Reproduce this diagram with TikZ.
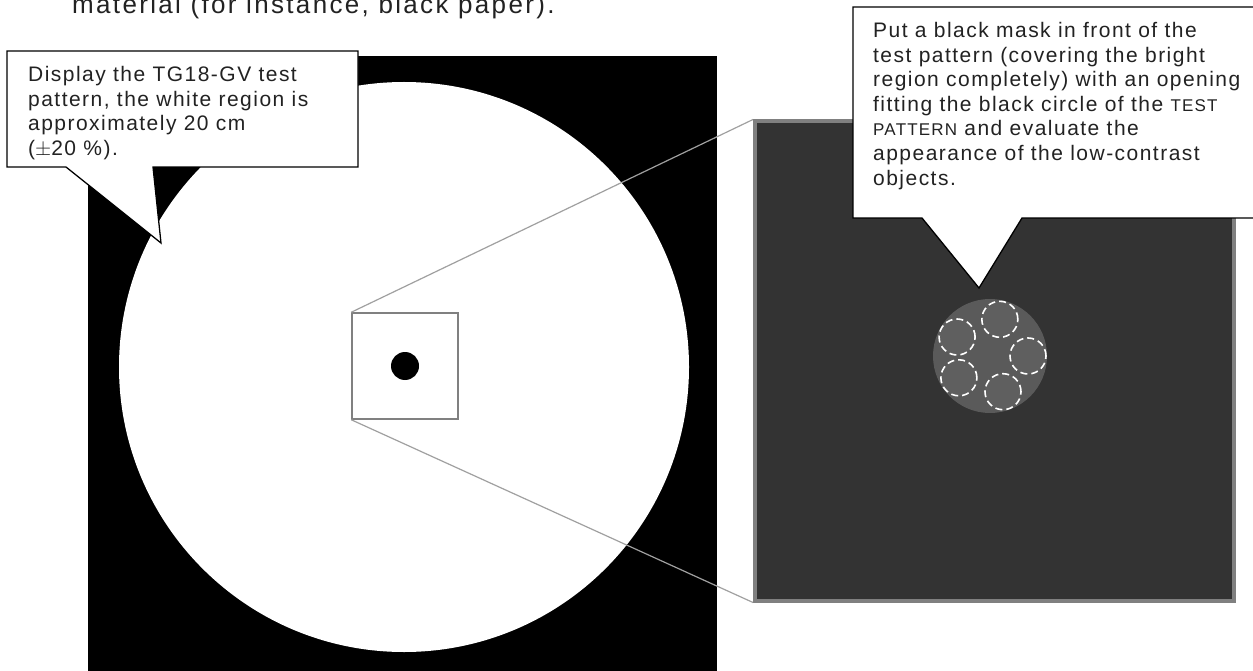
\documentclass[tikz,border=0pt]{standalone}
\usepackage{fontspec}
\setmainfont{Liberation Sans}
\newfontfamily\spacedfont[LetterSpace=7]{Liberation Sans}
\newfontfamily\captionfont[LetterSpace=9]{Liberation Sans}
\usepackage{tikz}
\usetikzlibrary{positioning, calc}
\definecolor{panelgray}{RGB}{51,51,51}
\definecolor{framegray}{RGB}{128,128,128}
\definecolor{discgray}{RGB}{90,90,90}
\definecolor{objgray}{RGB}{95,95,95}
\definecolor{linegray}{RGB}{160,160,160}
\definecolor{textdark}{RGB}{34,34,34}
\newcommand{\smallcapsize}{\fontsize{17}{24.6}\selectfont}
\tikzset{
  callout/.style={fill=white, draw=black, line width=1.3pt, line join=miter},
  notetext/.style={anchor=north west, inner sep=0pt, align=left,
    text=textdark, font=\spacedfont\fontsize{21}{24.6}\selectfont},
  zoombox/.style={rectangle, draw=framegray, line width=1.5pt,
    minimum size=106pt, inner sep=0pt},
  panel/.style={rectangle, draw=framegray, fill=panelgray,
    line width=4pt, minimum size=479pt, inner sep=0pt},
  dot/.style={circle, fill=black, minimum size=28pt, inner sep=0pt},
  disc/.style={circle, fill=discgray, minimum size=114pt, inner sep=0pt},
  lowobj/.style={circle, draw=white, fill=objgray, dash pattern=on 7pt off 4pt,
    line width=1.6pt, minimum size=36pt, inner sep=0pt},
  zoomline/.style={draw=linegray, line width=1.2pt}
}

\begin{document}
\begin{tikzpicture}[x=1pt, y=-1pt]
  \useasboundingbox (0,0) rectangle (1253,671);

  % test pattern
  \fill[black] (88,56) rectangle (717,690);
  \fill[white] (404,367) circle[radius=285pt];
  \node[zoombox] (zoom) at (405,366) {};
  \node[dot] (spot) at (zoom.center) {};

  % magnified view
  \node[panel] (view) at (994.5,361) {};
  \draw[zoomline] (zoom.north west) -- (view.north west);
  \draw[zoomline] (zoom.south west) -- (view.south west);
  \node[disc] (hole) at (990,356) {};
  \foreach \ang/\name in {0/obja, 75/objb, 150/objc, 215/objd, 290/obje}
    \node[lowobj] (\name) at ($(hole.center)+(\ang:38pt)$) {};

  % caption (cut at the top)
  \node[anchor=base west, inner sep=0pt, text=textdark,
    font=\captionfont\fontsize{26}{30}\selectfont] (caption) at (72,13.5)
    {material (for instance, black paper).};

  % callouts
  \draw[callout] (7,51) -- (358,51) -- (358,167) -- (153,167) -- (161,243)
    -- (66,167) -- (7,167) -- cycle;
  \node[notetext] (note1) at (28,66)
    {Display the TG18-GV test\\pattern, the white region is\\approximately 20 cm\\($\pm$20 \%).};

  \draw[callout] (853,7) -- (1265,7) -- (1265,218) -- (1022,218) -- (979,288)
    -- (922,218) -- (853,218) -- cycle;
  \node[notetext] (note2) at (873,22)
    {Put a black mask in front of the\\test pattern (covering the bright\\region completely) with an opening\\fitting the black circle of the {\smallcapsize TEST}\\{\smallcapsize PATTERN} and evaluate the\\appearance of the low-contrast\\objects.};
\end{tikzpicture}
\end{document}
